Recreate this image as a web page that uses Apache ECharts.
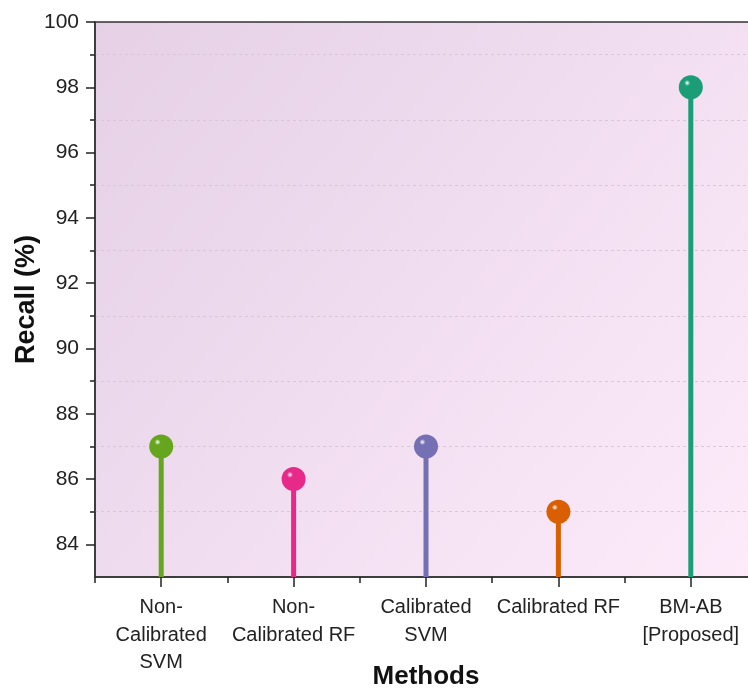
<!DOCTYPE html>
<html><head><meta charset="utf-8">
<script src="https://cdn.jsdelivr.net/npm/echarts@6/dist/echarts.min.js"></script>
<style>html,body{margin:0;padding:0;background:#fff}#c{width:748px;height:689px}</style>
</head><body><div id="c"></div>
<script>
const categories = ['Non-\nCalibrated\nSVM', 'Non-\nCalibrated RF', 'Calibrated\nSVM', 'Calibrated RF', 'BM-AB\n[Proposed]'];
const recall = [87, 86, 87, 85, 98];
const colors = ['#66a61e', '#e7298a', '#7570b3', '#d95f02', '#1b9e77'];
const yLabelTicks = [84, 86, 88, 90, 92, 94, 96, 98, 100];
const yMinorTicks = [85, 87, 89, 91, 93, 95, 97, 99];

const font = '"Liberation Sans", Arial, sans-serif';
const chart = echarts.init(document.getElementById('c'));

function ball(c) {
  return {
    type: 'radial', x: 0.35, y: 0.32, r: 0.7,
    colorStops: [{offset: 0, color: '#ffffff'}, {offset: 0.18, color: c}, {offset: 1, color: c}]
  };
}

chart.setOption({
  animation: false,
  grid: {
    left: 95, top: 22, width: 662, height: 555,
    outerBoundsMode: 'none', containLabel: false,
    show: true, borderColor: '#333', borderWidth: 1.5,
    backgroundColor: {
      type: 'linear', x: 0, y: 0, x2: 1, y2: 1,
      colorStops: [{offset: 0, color: '#e5d0e6'}, {offset: 1, color: '#fdebfa'}]
    }
  },
  xAxis: [{
    type: 'category', data: categories, position: 'bottom',
    name: 'Methods', nameLocation: 'middle', nameGap: 87, nameMoveOverlap: false,
    nameTextStyle: {fontFamily: font, fontSize: 26, fontWeight: 'bold', color: '#111'},
    axisLine: {show: true, lineStyle: {color: '#333', width: 1.5}},
    axisTick: {show: true, alignWithLabel: true, length: 10, lineStyle: {color: '#222', width: 1.5}},
    axisLabel: {fontFamily: font, fontSize: 20, color: '#222', margin: 17, lineHeight: 27.5, interval: 0}
  }, {
    type: 'category', data: categories, position: 'bottom',
    axisLine: {show: false},
    axisTick: {show: true, length: 6, lineStyle: {color: '#222', width: 1.5}},
    axisLabel: {show: false}
  }],
  yAxis: [{
    type: 'value', min: 83, max: 100,
    name: 'Recall (%)', nameLocation: 'middle', nameGap: 55, nameMoveOverlap: false,
    nameTextStyle: {fontFamily: font, fontSize: 27, fontWeight: 'bold', color: '#111'},
    axisLine: {show: true, lineStyle: {color: '#333', width: 1.5}},
    axisTick: {show: true, length: 9, customValues: yLabelTicks, lineStyle: {color: '#222', width: 1.5}},
    axisLabel: {customValues: yLabelTicks, fontFamily: font, fontSize: 21, color: '#222', margin: 16},
    splitLine: {show: false}
  }, {
    type: 'value', min: 83, max: 100, position: 'left',
    axisLine: {show: false},
    axisTick: {show: true, length: 5, customValues: yMinorTicks, lineStyle: {color: '#222', width: 1.5}},
    axisLabel: {show: false, customValues: yMinorTicks},
    splitLine: {show: true, lineStyle: {color: '#d9c6d8', type: [3, 3], width: 1}}
  }],
  series: [{
    type: 'bar', data: recall.map((v, i) => ({value: v, itemStyle: {color: colors[i]}})),
    barWidth: 5, silent: true, z: 2
  }, {
    type: 'scatter', symbol: 'circle', symbolSize: 24,
    data: recall.map((v, i) => ({value: v, itemStyle: {color: ball(colors[i]), opacity: 1}})),
    z: 3
  }]
});
</script></body></html>
